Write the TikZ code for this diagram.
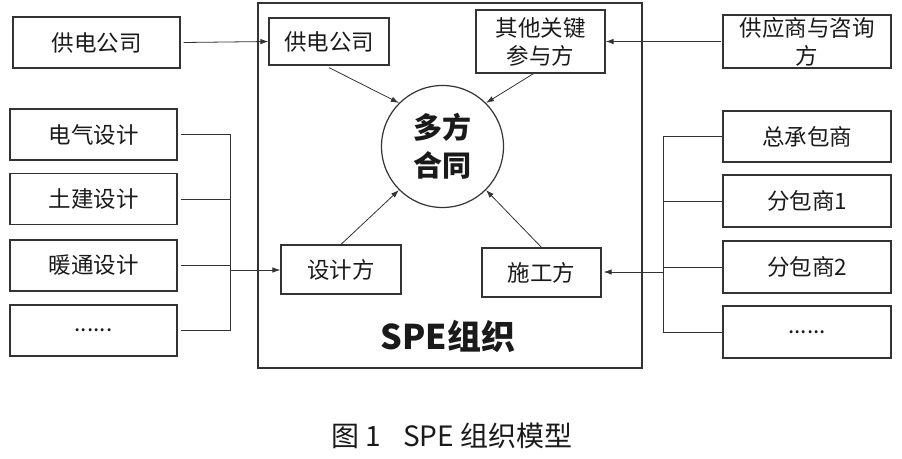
\documentclass[tikz,border=0pt]{standalone}
\usepackage{fontspec}
\setmainfont{Noto Sans CJK SC}
\usetikzlibrary{arrows.meta}
\definecolor{linec}{HTML}{333333}
\definecolor{textc}{HTML}{1A1A1A}
\begin{document}
\begin{tikzpicture}[x=1pt,y=-1pt,
  box/.style={draw=linec, line width=1.2pt, inner sep=0pt, align=center, text=textc,
    font=\fontsize{22.5}{28}\selectfont},
  obox/.style={box, minimum width=167pt, minimum height=51pt},
  conn/.style={draw=linec, line width=0.8pt},
  arr/.style={conn, -{Latex[length=8pt,width=5.5pt]}}]
\useasboundingbox (0,0) rectangle (902,458);

% SPE frame
\node[draw=linec, line width=1.2pt, minimum width=384pt, minimum height=365pt, inner sep=0pt] (spe) at (450,185.5) {};
\node[text=textc, font=\fontsize{34}{40}\selectfont\bfseries] (spet) at (448,336) {SPE组织};

% left boxes
\node[obox] (L0) at (96.5,42.5) {供电公司};
\node[obox] (L1) at (93.5,134.5) {电气设计};
\node[obox] (L2) at (93.5,199) {土建设计};
\node[obox] (L3) at (93.5,265.5) {暖通设计};
\node[obox] (L4) at (93.5,330.5) {......};

% right boxes
\node[obox, minimum width=168pt, minimum height=53pt] (R0) at (807,41.5) {供应商与咨询\\方};
\node[obox, minimum width=168pt] (R1) at (807,136.5) {总承包商};
\node[obox, minimum width=168pt, minimum height=52pt] (R2) at (807,201) {分包商1};
\node[obox, minimum width=168pt, minimum height=52pt] (R3) at (807,267) {分包商2};
\node[obox, minimum width=168pt, minimum height=52pt] (R4) at (807,332) {......};

% inner boxes
\node[box, minimum width=120pt, minimum height=47pt] (I1) at (329,41.5) {供电公司};
\node[box, minimum width=129pt, minimum height=63pt] (I2) at (540.5,41.5) {其他关键\\参与方};
\node[box, minimum width=120pt, minimum height=49pt] (D) at (341,269.5) {设计方};
\node[box, minimum width=119pt, minimum height=49pt] (S) at (541.5,272.5) {施工方};

% circle
\node[draw=linec, line width=1.2pt, circle, minimum size=122pt, inner sep=0pt, align=center,
  text=textc, font=\fontsize{29}{38}\selectfont\bfseries] (C) at (442.5,146.5) {多方\\合同};

% top arrows
\draw[arr] ([xshift=3pt]L0.east) -- (I1.west);
\draw[arr] ([xshift=-1pt]R0.west) -- (I2.east);

% arrows into circle
\draw[arr] ([yshift=-2pt]I1.south) -- (C.135);
\draw[arr] ([xshift=-7pt]I2.south) -- (C.45);
\draw[arr] (D.north) -- (C.225);
\draw[arr] (S.north) -- (C.315);

% left bracket
\coordinate (lb1) at (230,134.5);
\coordinate (lb4) at (230,330.5);
\coordinate (lbm) at (230,270);
\draw[conn] ([xshift=3pt]L1.east) -- (lb1) -- (lb4) -- ([xshift=3pt]L4.east);
\draw[conn] ([xshift=3pt]L2.east) -- (230,199);
\draw[conn] ([xshift=3pt]L3.east) -- (230,265.5);
\draw[arr] (lbm) -- (D.west |- lbm);

% right bracket
\coordinate (rb1) at (663,136.5);
\coordinate (rb4) at (663,332);
\coordinate (rbm) at (663,272);
\draw[conn] (R1.west) -- (rb1) -- (rb4) -- (R4.west);
\draw[conn] (R2.west) -- (663,201);
\draw[conn] (R3.west) -- (663,267);
\draw[arr] (rbm) -- ([xshift=2pt]S.east |- rbm);

% caption
\node[text=textc, font=\fontsize{28}{30}\selectfont] (cap) at (452,436) {图 1\hspace{22pt}SPE 组织模型};
\end{tikzpicture}
\end{document}
